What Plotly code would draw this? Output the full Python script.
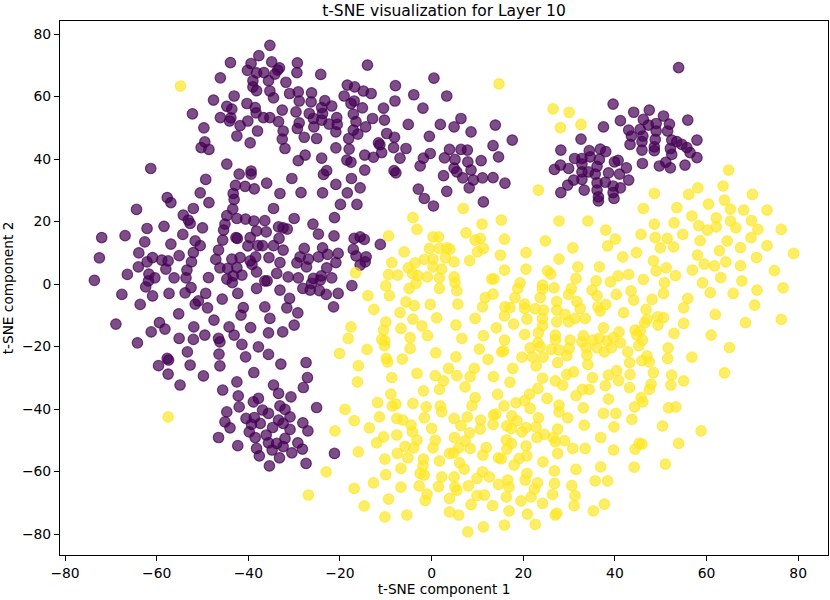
import plotly.graph_objects as go

# t-SNE embedding of layer 10
PURPLE_X = [
    -43.9, -39.4, -37.7, -40.2, -38.2, -46.1, -39.0, -39.0, -38.2, -43.1, -47.6, -40.3, -44.7, -43.6, -38.5, -38.3,
    -52.2, -46.1, -43.8, -44.1, -40.1, -41.8, -38.0, -49.7, -42.5, -39.6, -49.5, -50.3, -48.6, -61.3, -44.7, -42.0,
    -39.4, -39.4, -49.3, -42.8, -40.7, -38.7, -43.3, -43.1, -50.5, -57.7, -56.9, -48.6, -64.4, -52.0, -43.4,
    -35.3, -34.9, -33.2, -33.6, -29.3, -29.4, -36.6, -34.2, -14.0, -24.2, -35.6, -31.8, -35.3, -34.5, -31.0, -29.1,
    -26.2, -28.9, -26.3, -23.3, -21.8, -24.0, -18.4, -16.8, -14.9, -13.2, -19.1, -16.9, -17.6, -15.1, -7.9, -8.0,
    -10.5, -3.9, -1.9, 0.5, 3.3, -36.7, -35.3, -33.4, -32.6, -32.4, -32.6, -32.0, -29.6, -28.9, -29.3, -26.7,
    -25.8, -25.7, -24.0, -22.4, -20.7, -20.6, -20.9, -23.8, -27.8, -25.1, -17.1, -16.5, -17.1, -18.1, -16.1, -14.4,
    -12.9, -10.3, -9.8, -11.6, -11.3, -10.9, -12.7, -14.6, -18.0, -20.9, -18.5, -17.6, -14.6, -17.5, -15.6, -20.9,
    -24.0, -22.9, -23.6, -27.6, -29.1, -30.5, -23.8, -28.5, -33.1, -36.0, -19.9, -16.3, -34.5, -18.4, -8.1, -8.3,
    -5.6, -6.9, -7.8, -8.2, -5.1, -0.5, 1.9, -1.8, -0.3, 2.8, 3.9, -2.5, 2.6, -2.9, -1.6, 0.4, 3.3,
    4.9, 6.4, 8.6, 13.9, 17.6, 6.4, 7.8, 13.4, 5.1, 7.9, 10.8, 14.6, 4.9, 5.5, 8.6, 6.8, 9.1, 11.1, 13.4, 16.0,
    8.2, 11.3,
    39.6, 44.1, 41.2, 37.5, 43.0, 43.6, 43.3, 32.6, 28.2, 34.4, 36.8, 38.0, 31.2, 32.8, 34.6, 36.6, 39.9, 40.7,
    26.8, 28.1, 29.9, 32.8, 36.1, 32.8, 34.2, 35.7, 38.6, 41.0, 42.5, 43.0, 31.0, 32.8, 36.1, 37.9, 29.7, 39.6,
    41.2, 33.3, 36.1, 39.6, 28.2, 36.4, 36.4, 39.8,
    53.9, 47.5, 50.6, 46.2, 49.0, 51.9, 55.9, 45.5, 47.3, 49.0, 51.5, 46.1, 48.8, 52.4, 53.5, 57.9, 45.9, 48.6,
    52.1, 54.6, 55.7, 45.9, 48.6, 52.4, 56.4, 57.9, 46.0, 49.7, 51.1, 52.1, 55.3,
    -72.0, -66.9, -62.1, -58.4, -54.2, -53.1, -52.7, -50.0, -54.3, -62.6, -56.9, -51.6, -50.5, -72.5, -63.9, -60.9,
    -62.1, -58.9, -57.5, -55.1, -52.0, -52.4, -64.0, -58.0, -53.4, -73.6, -66.4, -61.7, -60.4, -61.8, -56.2, -53.6,
    -62.4, -52.5, -48.7, -67.6, -60.9, -57.3, -53.8, -49.3, -50.9, -51.6, -45.7, -42.3, -48.9, -63.6, -55.2, -41.1,
    -41.6, -68.9, -59.4, -61.2, -58.2, -51.9, -47.5, -44.2, -39.5, -64.2, -55.1, -52.0, -49.5, -43.1, -46.5, -46.2,
    -41.4, -37.8, -53.3, -46.4, -40.6, -57.7, -57.4, -59.6, -52.7, -46.2, -57.5, -49.8, -42.5, -38.8, -54.9,
    -44.7, -42.5, -40.6, -38.8, -45.1, -45.4, -38.2, -42.7, -42.4, -39.6, -45.6, -40.1, -37.9, -46.5, -47.1, -43.6,
    -41.8, -38.4, -39.6, -39.2, -46.2, -44.5, -42.5, -41.4, -43.3, -44.7, -43.5, -38.2, -38.2,
    -36.4, -36.1, -33.4, -32.4, -31.5, -30.0, -25.9, -21.2, -24.7, -33.3, -36.9, -34.5, -32.4, -27.8, -28.7, -29.4,
    -26.9, -24.7, -23.8, -22.7, -20.4, -20.9, -22.9, -21.3, -16.9, -15.6, -14.7, -11.2, -17.1, -16.5, -14.3, -14.5,
    -15.6, -35.5, -33.1, -33.8, -31.3, -29.1, -27.3, -25.8, -24.3, -26.2, -24.1, -21.8, -36.4, -35.9, -33.1, -28.1,
    -26.5, -24.5, -23.0, -20.4, -17.4, -31.0, -36.4, -31.6, -29.2, -21.4, -35.3, -30.0, -35.6, -32.5, -35.6, -32.9,
    -27.4, -27.1, -34.5,
    -45.6, -42.2, -42.0, -44.7, -45.1, -44.0, -46.5, -42.3, -40.5, -38.7, -39.3, -39.8, -38.5, -38.2, -38.9, -37.8,
    -37.6,
    -28.0, -33.4, -30.7, -36.9, -35.6, -33.1, -32.0, -25.1, -30.9, -33.4, -32.4, -37.4, -34.7, -30.9, -28.1, -27.0,
    -36.1, -35.6, -33.8, -32.0, -32.4, -34.8, -29.2, -28.2, -30.5, -33.2, -35.4, -27.4, -21.2,
]
PURPLE_Y = [
    70.9, 70.6, 73.1, 68.4, 67.6, 66.0, 65.1, 63.1, 61.9, 60.2, 58.9, 57.8, 56.9, 56.0, 56.5, 54.8,
    54.5, 53.3, 53.2, 52.2, 52.2, 50.7, 49.0, 50.0, 47.4, 45.2, 45.5, 43.7, 43.1, 37.0, 38.4, 35.2,
    36.2, 35.2, 33.5, 31.6, 31.3, 30.5, 29.0, 27.1, 29.2, 27.7, 26.1, 26.1, 23.9, 24.2, 24.0,
    76.4, 71.1, 69.2, 68.5, 70.8, 67.7, 67.7, 67.2, 70.1, 67.1, 65.1, 64.6, 61.8, 59.6, 61.0, 61.5,
    61.2, 58.6, 58.3, 58.7, 57.0, 56.5, 63.7, 63.1, 61.8, 61.0, 60.2, 58.6, 57.8, 56.4, 63.5, 58.6,
    56.3, 60.6, 56.3, 65.9, 60.2, 53.3, 53.3, 52.0, 55.7, 49.0, 46.4, 43.4, 55.1, 51.6, 49.8, 54.6,
    53.0, 50.3, 52.5, 51.2, 53.3, 51.1, 48.7, 54.6, 47.0, 46.6, 54.4, 52.0, 49.3, 46.6, 48.0, 50.3,
    53.0, 52.5, 48.2, 45.2, 44.6, 42.1, 40.6, 41.3, 43.2, 43.6, 39.7, 39.0, 36.5, 33.8, 30.8, 31.9,
    40.3, 36.3, 35.1, 41.3, 39.5, 33.8, 29.2, 29.3, 29.0, 32.3, 25.5, 25.5, 24.2, 29.2, 47.0, 43.7,
    43.4, 40.3, 35.6, 36.3, 51.1, 47.3, 51.1, 40.3, 41.8, 40.4, 43.1, 37.8, 34.7, 30.4, 27.4, 25.0, 29.7,
    50.3, 53.0, 48.7, 50.9, 46.1, 43.1, 42.9, 44.3, 39.9, 39.1, 39.5, 40.7, 37.1, 35.9, 36.5, 34.0, 33.3, 34.0, 34.1, 32.3,
    30.8, 26.3,
    57.6, 55.0, 52.3, 50.3, 49.3, 47.4, 44.7, 46.4, 42.9, 42.7, 43.2, 42.4, 40.2, 40.2, 40.7, 39.9, 39.1, 39.6,
    36.7, 38.1, 37.0, 38.4, 37.7, 35.9, 35.9, 35.2, 35.6, 35.2, 37.2, 33.3, 33.3, 33.5, 32.4, 32.6, 31.7, 31.4,
    30.8, 30.1, 30.1, 29.3, 29.3, 27.9, 26.6, 27.4,
    69.3, 55.7, 53.8, 52.7, 51.4, 51.2, 52.5, 49.5, 50.9, 49.0, 49.0, 47.4, 46.3, 46.1, 45.6, 46.1, 45.6, 43.9,
    43.4, 44.7, 43.7, 42.9, 42.7, 41.5, 42.1, 40.5, 38.6, 37.8, 39.0, 37.2, 38.1,
    14.9, 15.5, 17.8, 18.5, 22.1, 20.5, 19.4, 18.0, 15.9, 13.5, 12.8, 13.8, 12.3, 8.4, 10.0, 8.5,
    7.1, 7.7, 7.4, 9.1, 10.1, 7.1, 5.5, 4.8, 4.5, 1.2, 3.1, 3.2, 2.0, 1.0, 2.0, 2.0,
    -0.9, -1.1, 2.1, -3.3, -3.8, -3.0, -2.8, -3.0, -5.4, -6.4, -4.8, -3.0, -7.6, -6.5, -9.5, -7.5,
    -9.9, -12.8, -12.3, -15.3, -14.4, -13.7, -11.5, -13.7, -13.9, -18.8, -17.4, -17.7, -16.3, -16.3, -17.4, -18.5,
    -19.3, -20.1, -21.7, -22.4, -23.3, -23.8, -24.3, -26.1, -25.9, -26.2, -28.8, -29.4, -31.3, -28.3, -32.3,
    21.9, 21.0, 20.8, 20.2, 19.2, 17.3, 17.0, 14.9, 14.6, 14.9, 14.1, 12.2, 12.3, 10.9, 7.9, 8.0,
    8.5, 8.7, 7.4, 6.3, 5.2, 5.0, 5.3, 2.9, 2.6, 1.6, 0.5, 3.9, -1.4,
    20.3, 16.7, 18.3, 18.0, 17.6, 21.0, 19.2, 21.3, 16.0, 14.6, 12.3, 12.3, 10.9, 11.4, 8.7, 6.8,
    8.0, 8.7, 11.6, 9.5, 9.8, 6.9, 5.2, 15.4, 14.6, 15.1, 14.3, 12.7, 11.1, 9.0, 8.7, 7.1,
    6.1, 8.5, 6.9, 3.4, 2.3, 2.0, 5.5, 1.8, 1.3, 0.2, 2.6, 2.0, 1.0, 1.0, -1.9, -1.4,
    -1.9, -2.1, -3.3, -3.0, -0.5, -4.6, -7.3, -7.6, -9.2, -7.3, -11.0, -13.1, -15.6, -15.3, -22.5, -25.6,
    -25.1, -29.9, -32.3,
    -33.9, -35.8, -39.3, -40.9, -44.1, -46.0, -49.1, -51.7, -43.0, -42.7, -44.9, -47.3, -49.1, -52.6, -37.7, -36.6,
    -55.0,
    -33.1, -35.0, -36.1, -40.3, -41.4, -39.0, -40.1, -39.5, -42.5, -43.5, -44.6, -44.6, -45.9, -46.5, -44.4, -47.0,
    -48.3, -50.8, -51.0, -49.4, -52.0, -53.1, -50.8, -52.8, -54.0, -55.6, -58.2, -57.4, -54.2,
]

YELLOW_X = [
    -54.8, -57.5,
    14.7, 26.5, 30.0, 28.1, 32.6, 23.3, 6.9,
    64.8, 63.6, 58.1, 56.1, 48.6, 70.0, 63.9, 60.4, 46.2, 53.5, 65.2, 68.1, 73.2,
    -16.6, -4.1, -3.2, -9.4, 0.3, 1.5, -6.0, -0.5, 1.7, 3.3, -8.7, -5.1, -3.6, -1.6, 0.3, 3.0,
    0.3, 2.2, -9.4, -7.4, -4.2, -3.0, -0.9, 1.7, -3.4, -10.0, -4.9, 1.7, -13.9, -9.2, -5.6, -3.8,
    -0.3, -12.6, -6.9, -4.1, 1.1, -10.0, -17.6, -6.7, -2.1, -10.5, -18.2, -10.9, -10.2, -4.7, -0.9, -10.3,
    -4.7, -14.1, -20.1, -9.9, -9.6, -6.4, 0.9, -16.0, -3.2, 3.7, -8.7, -16.2, 0.8, 2.6,
    15.2, 11.0, 27.8, 34.1, 7.5, 9.5, 10.6, 15.9, 24.8, 38.0, 40.1, 38.4, 4.0, 10.0, 11.3, 15.0,
    20.6, 30.8, 41.7, 44.7, 4.9, 8.3, 27.8, 15.9, 20.6, 31.9, 36.6, 25.3, 26.0, 4.9, 5.1, 13.1,
    13.6, 31.5, 35.9, 39.0, 40.7, 43.0, 19.3, 18.8, 24.2, 24.2, 26.7, 30.5, 35.0, 5.5, 13.4, 11.7,
    18.2, 23.7, 29.9, 36.1, 40.3, 43.5, 44.1, 5.7, 11.1, 16.0, 17.1, 20.3, 20.3, 22.6, 24.4, 27.3,
    27.3, 31.7, 32.4, 36.3, 38.0, 36.8, 41.9, 29.1, 9.5, 15.9, 20.8, 24.2, 29.9, 31.3, 33.5, 27.3,
    5.3, 14.1, 17.9, 24.2, 37.5, 44.4, 6.6, 11.3, 15.9, 20.3, 23.3, 27.0, 27.0, 33.1, 32.8, 30.2,
    35.2, 36.6, 38.3, 39.7, 40.9, 41.2, 44.8, 23.2, 23.7, 21.5, 26.1, 27.8, 30.0, 29.5, 33.7, 33.9,
    36.1, 37.7, 39.2, 42.8, 10.4, 15.3, 15.7, 5.3, 12.3, 19.7, 22.0, 24.3, 27.5, 34.1, 43.2, 9.3,
    17.7, 22.8, 31.0, 29.5, 40.4, 38.6, 43.3, 5.5, 8.4, 13.5, 24.2, 27.0, 35.1, 40.8, 17.1,
    48.6, 52.9, 56.8, 58.3, 62.1, 62.1, 60.2, 65.2, 66.4, 69.8, 71.2, 76.3, 69.7, 45.7, 48.8, 51.4,
    54.8, 49.9, 52.8, 58.6, 64.5, 62.8, 67.4, 73.2, 79.0, 58.0, 70.9, 48.4, 59.5, 61.7, 64.2, 67.4,
    51.2, 49.0, 56.9, 74.8, 46.2, 53.2, 50.8, 63.1, 59.1, 67.7, 76.7, 71.0, 65.8, 60.8, 50.6, 48.1,
    55.9, 55.0, 70.5, 46.8, 61.9, 49.3, 50.6, 47.0, 46.5, 49.4, 55.0, 68.5, 76.3, 45.5, 52.9, 61.0,
    46.0, 45.2, 51.6, 65.0, 56.8, 51.5, 47.0, 45.9, 47.5, 48.4, 52.4, 63.9, 55.0, 47.9, 52.2,
    -26.9, -23.0, -21.1, -18.9, -16.9, -16.0, -16.9, -14.7, -13.6, -12.7, -12.0, -11.8, -11.4, -10.5, -10.2, -10.0,
    -9.4, -10.2, -8.9, -8.6, -7.8, -7.6, -6.3, -7.6, -7.5, -6.7, -6.7, -5.4, -5.2, -5.8, -4.5, -4.2,
    -3.9, -3.2, -4.1, -1.8, -1.2, -1.6, 0.0, 1.7, 1.9, 2.2, 0.8, 0.3, -1.8, -1.9, -2.5, -1.6,
    1.7, 2.2, 1.5, -2.7, -1.0, -1.4, 3.9, 3.9, 3.9,
    7.3, 28.6, 23.2, 21.4, 14.4, 9.5, 8.8, 25.2, 18.4, 20.3, 21.5, 15.8, 31.5, 32.9, 34.4, 37.9,
    43.2, 38.6, 44.3, 27.8, 27.8, 33.1, 37.5, 40.2, 43.7, 39.8, 33.3, 29.7, 23.3, 22.8, 20.6, 19.7,
    27.5, 24.6, 23.0, 26.5, 27.0, 29.0, 36.9, 30.8, 33.5, 39.7, 44.4, 45.3, 27.5, 13.5, 14.0, 17.5,
    18.6, 16.4, 17.4, 13.4, 10.7, 10.6, 7.8, 4.9, 6.4, 8.3, 5.0, 7.3, 8.4, 5.9, 4.8, 11.9,
    11.2, 16.3, 17.4, 16.4, 20.6, 20.8, 19.1, 18.0, 14.6, 15.2, 24.3, 6.1, 7.1, 4.9, 11.1, 12.6,
    9.9, 20.8, 20.4, 26.8, 31.5, 36.9, 44.2, 16.6, 14.6, 16.9, 23.1, 22.4, 26.8, 30.6, 35.7, 38.4,
    5.1, 5.5, 8.0, 9.9, 11.5, 16.3, 19.5, 21.7, 26.4, 31.3, 8.6, 13.3, 24.2, 31.1, 37.7, 5.9,
    16.9, 20.9, 27.0, 27.3, 35.3, 7.9, 11.3, 15.9, 22.6,
    47.5, 45.7, 46.1, 51.7, 53.3, 50.4, 58.8, 45.9, 53.9, 51.0,
]
YELLOW_Y = [
    63.4, -42.5,
    64.1, 56.1, 55.0, 50.1, 51.1, 30.1, 24.2,
    36.5, 31.4, 30.8, 28.7, 29.0, 28.7, 26.9, 25.6, 24.2, 24.5, 24.0, 23.7, 23.7,
    3.6, 21.3, 17.5, 15.4, 15.1, 15.1, 10.3, 11.4, 11.4, 11.6, 6.9, 5.2, 6.8, 7.9, 8.0, 8.4,
    5.5, 4.8, 3.1, 2.9, 3.4, 2.7, 2.3, 2.0, 0.2, -0.5, -1.4, -1.4, -3.7, -3.7, -5.7, -6.9,
    -6.5, -8.1, -9.1, -11.2, -10.8, -12.1, -13.7, -14.2, -13.4, -14.7, -17.4, -17.7, -18.2, -17.1, -16.5, -19.7,
    -20.6, -20.9, -22.2, -23.8, -24.9, -24.0, -22.0, -26.1, -28.6, -27.0, -29.9, -31.3, -29.3, -31.0,
    20.5, 19.2, 20.2, 20.2, 16.4, 14.1, 14.6, 14.4, 13.8, 17.3, 14.4, 12.2, 11.2, 10.3, 11.4, 9.3,
    10.1, 11.6, 8.7, 10.1, 7.1, 7.5, 8.0, 4.5, 4.8, 5.5, 5.5, 4.2, 3.2, 2.3, 0.5, 1.6,
    1.7, 1.8, 1.0, 0.7, 2.6, 3.1, 0.4, -1.4, -0.3, -1.6, -1.2, -1.4, -1.9, -2.1, -3.2, -4.3,
    -4.3, -4.3, -3.3, -3.7, -3.3, -2.2, -5.1, -6.4, -7.3, -7.3, -7.5, -6.4, -7.8, -7.9, -8.3, -5.6,
    -8.3, -5.6, -7.8, -7.3, -6.5, -8.6, -9.1, -9.7, -11.0, -10.2, -11.2, -11.0, -12.1, -11.0, -11.0, -12.1,
    -13.1, -14.0, -12.8, -13.3, -14.0, -14.7, -17.4, -16.5, -17.9, -16.1, -15.6, -16.3, -17.8, -16.5, -18.5, -17.9,
    -17.9, -17.3, -18.2, -17.1, -15.3, -18.8, -16.3, -18.7, -20.1, -20.4, -20.9, -21.1, -20.6, -22.9, -20.4, -22.7,
    -20.4, -21.7, -20.4, -21.7, -20.8, -21.7, -21.4, -23.3, -24.1, -23.4, -23.3, -23.4, -25.1, -25.7, -25.1, -27.0,
    -27.0, -26.2, -28.1, -28.9, -27.7, -29.1, -28.9, -29.3, -29.6, -29.6, -30.1, -31.0, -29.9, -30.9, -31.4,
    19.2, 19.6, 21.8, 18.7, 21.2, 18.3, 17.3, 20.2, 18.0, 20.3, 17.5, 17.5, 14.9, 15.9, 14.9, 14.6,
    15.9, 11.6, 11.9, 13.9, 13.8, 10.7, 11.7, 12.3, 9.8, 9.3, 8.5, 7.4, 6.4, 5.8, 7.1, 5.9,
    5.2, 4.2, 4.5, 4.3, 1.5, 2.7, 0.5, 2.1, 0.4, 1.0, -1.2, -1.9, -3.0, -2.7, -3.0, -4.9,
    -4.6, -7.6, -6.7, -8.1, -9.7, -10.5, -10.7, -11.3, -12.4, -13.1, -12.6, -12.3, -11.3, -15.0, -15.8, -16.3,
    -17.9, -19.7, -20.4, -20.3, -23.4, -23.8, -23.0, -24.5, -24.9, -28.3, -29.1, -28.4, -31.0, -32.0, -32.3,
    -67.5, -60.1, -47.0, -40.1, -43.7, -53.7, -65.4, -71.0, -46.0, -63.6, -50.8, -37.9, -42.5, -48.9, -56.0, -61.0,
    -68.8, -74.5, -35.2, -39.0, -38.4, -43.0, -43.5, -48.3, -54.2, -59.0, -65.0, -73.9, -55.6, -52.0, -45.1, -47.3,
    -52.4, -49.9, -38.2, -34.2, -39.3, -42.8, -46.2, -33.7, -39.0, -40.9, -49.9, -52.4, -56.0, -58.2, -60.6, -61.1,
    -56.6, -61.7, -64.8, -64.6, -67.2, -69.3, -68.6, -72.9, -54.2,
    -32.9, -32.3, -33.4, -35.2, -35.3, -36.3, -38.9, -36.6, -38.0, -37.3, -39.8, -39.0, -35.7, -33.7, -33.7, -32.5,
    -33.1, -36.8, -39.3, -38.7, -40.9, -39.6, -41.4, -41.4, -43.3, -45.7, -45.1, -42.8, -42.8, -45.7, -45.9, -47.3,
    -46.4, -48.1, -49.1, -49.1, -50.5, -50.1, -49.1, -52.6, -52.6, -53.1, -52.8, -51.0, -54.2, -41.9, -41.6, -42.2,
    -43.7, -45.4, -46.2, -44.9, -43.5, -46.4, -42.5, -43.0, -45.3, -47.6, -49.1, -50.2, -52.6, -52.4, -54.0, -52.3,
    -54.7, -49.9, -51.0, -52.8, -51.8, -55.0, -55.8, -57.9, -55.6, -55.9, -56.9, -57.2, -59.2, -61.7, -60.1, -61.7,
    -62.2, -60.6, -62.7, -59.8, -59.3, -58.5, -58.6, -62.7, -64.1, -64.9, -63.6, -65.7, -63.8, -64.5, -63.0, -63.0,
    -64.9, -66.0, -64.6, -67.7, -67.5, -68.1, -69.4, -68.1, -67.3, -67.7, -70.6, -70.9, -70.2, -70.9, -70.4, -73.9,
    -72.6, -73.6, -73.9, -73.3, -72.6, -79.3, -77.7, -77.1, -76.9,
    -33.7, -36.3, -37.7, -39.6, -39.3, -45.4, -47.0, -51.2, -51.0, -57.6,
]

TICKS = [-80, -60, -40, -20, 0, 20, 40, 60, 80]
FONT = "DejaVu Sans, Arial, sans-serif"

# the page's default body margin pushes a fixed-size figure off the window
NO_BODY_MARGIN = "document.body.style.margin = '0px';"


def main():
    fig = go.Figure()
    # same order as a single matplotlib scatter: label 0 (purple) then label 1 (yellow)
    for xs, ys, rgb in [(PURPLE_X, PURPLE_Y, "68, 1, 84"), (YELLOW_X, YELLOW_Y, "253, 231, 37")]:
        fig.add_trace(go.Scatter(
            x=xs, y=ys,
            mode="markers",
            marker={
                "color": f"rgba({rgb}, 0.7)",
                "size": 10.5,
                # matplotlib draws the edge in the face colour, which shows as a faint ring
                "line": {"color": f"rgba({rgb}, 0.7)", "width": 1.2},
            },
            hoverinfo="skip",
            showlegend=False,
        ))

    axis_style = dict(
        showgrid=False, zeroline=False,
        showline=True, mirror=True, linecolor="black", linewidth=1,
        ticks="outside", ticklen=5, tickwidth=1, tickcolor="black",
        tickvals=TICKS, tickfont={"size": 13.9, "color": "black"},
        automargin=False,
    )
    fig.update_xaxes(range=[-81.1, 86.5], title_text="t-SNE component 1",
                     title_standoff=3, title_font={"size": 13.7, "color": "black"},
                     **axis_style)
    fig.update_yaxes(range=[-86.7, 84.2], title_text="t-SNE component 2",
                     title_standoff=8, title_font={"size": 13.7, "color": "black"},
                     **axis_style)

    fig.update_layout(
        width=830, height=600,
        margin={"l": 60, "r": 2, "t": 21, "b": 45},
        paper_bgcolor="white", plot_bgcolor="white",
        font={"family": FONT, "color": "black"},
        title={"text": "t-SNE visualization for Layer 10", "x": 0.5, "xanchor": "center",
               "xref": "paper", "y": 0.983, "yref": "container", "yanchor": "middle",
               "font": {"size": 15.5, "color": "black"}},
    )
    fig.write_html("out.html", post_script=NO_BODY_MARGIN,
                   config={"displayModeBar": False})


if __name__ == "__main__":
    main()
